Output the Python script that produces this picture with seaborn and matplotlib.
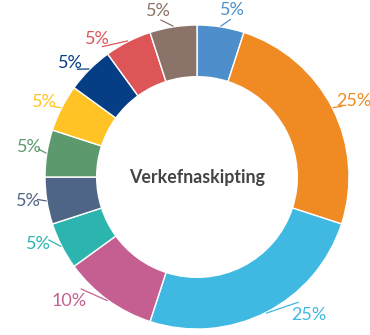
import numpy as np
import matplotlib
matplotlib.use("Agg")
import matplotlib.pyplot as plt
import seaborn as sns

# Share of tasks per category, clockwise from 12 o'clock
shares = [5, 25, 25, 10, 5, 5, 5, 5, 5, 5, 5]
labels = [f"{v}%" for v in shares]
colors = ["#4E8FCB", "#F08A22", "#3FB9E1", "#C65F91", "#2CB5AE", "#4F6585",
          "#5C9A6D", "#FFC325", "#053E85", "#DE5558", "#8B7369"]
center_title = "Verkefnaskipting"

# label placement around the ring: angular nudge (deg) and radius
label_nudge = [3, 1, -12, 10, 4, 1, 1, -1, -3, -9, -4]
label_radius = [1.12, 1.145, 1.17, 1.17, 1.13, 1.12, 1.12, 1.12, 1.12, 1.12, 1.12]

sns.set_theme(style="white")
plt.rcParams["font.family"] = ["Lato", "DejaVu Sans"]

W, H = 370, 335
fig = plt.figure(figsize=(W / 100, H / 100), dpi=100)
ax = fig.add_axes([0, 0, 1, 1])

palette = sns.color_palette(colors)
wedges, _ = ax.pie(shares, colors=palette, startangle=90, counterclock=False,
                   radius=1.0,
                   wedgeprops=dict(width=0.34, edgecolor="white", linewidth=1.0))

# percentage labels outside the ring with short leader lines
for w, lab, col, nudge, r in zip(wedges, labels, palette, label_nudge, label_radius):
    mid = np.deg2rad((w.theta1 + w.theta2) / 2)
    lab_ang = mid - np.deg2rad(nudge)
    x0, y0 = np.cos(mid) * 1.005, np.sin(mid) * 1.005
    x1, y1 = np.cos(lab_ang) * 1.06, np.sin(lab_ang) * 1.06
    ax.plot([x0, x1], [y0, y1], color=col, lw=0.9, solid_capstyle="round")
    tx, ty = np.cos(lab_ang) * r, np.sin(lab_ang) * r
    ax.text(tx, ty, lab, color=col, fontsize=13, ha="center", va="center",
            fontweight="normal")

ax.text(0, 0, center_title, ha="center", va="center", fontsize=12.8,
        fontweight="bold", color="#444444")

# map data units to pixels: ring centre near (197, 177) px, radius ~152 px
R = 152.0
cx, cy = 197.0, 177.0
ax.set_xlim(-cx / R, (W - cx) / R)
ax.set_ylim(-(H - cy) / R, cy / R)
ax.set_aspect("auto")
ax.axis("off")

fig.savefig("out.png", dpi=100, facecolor="white")
